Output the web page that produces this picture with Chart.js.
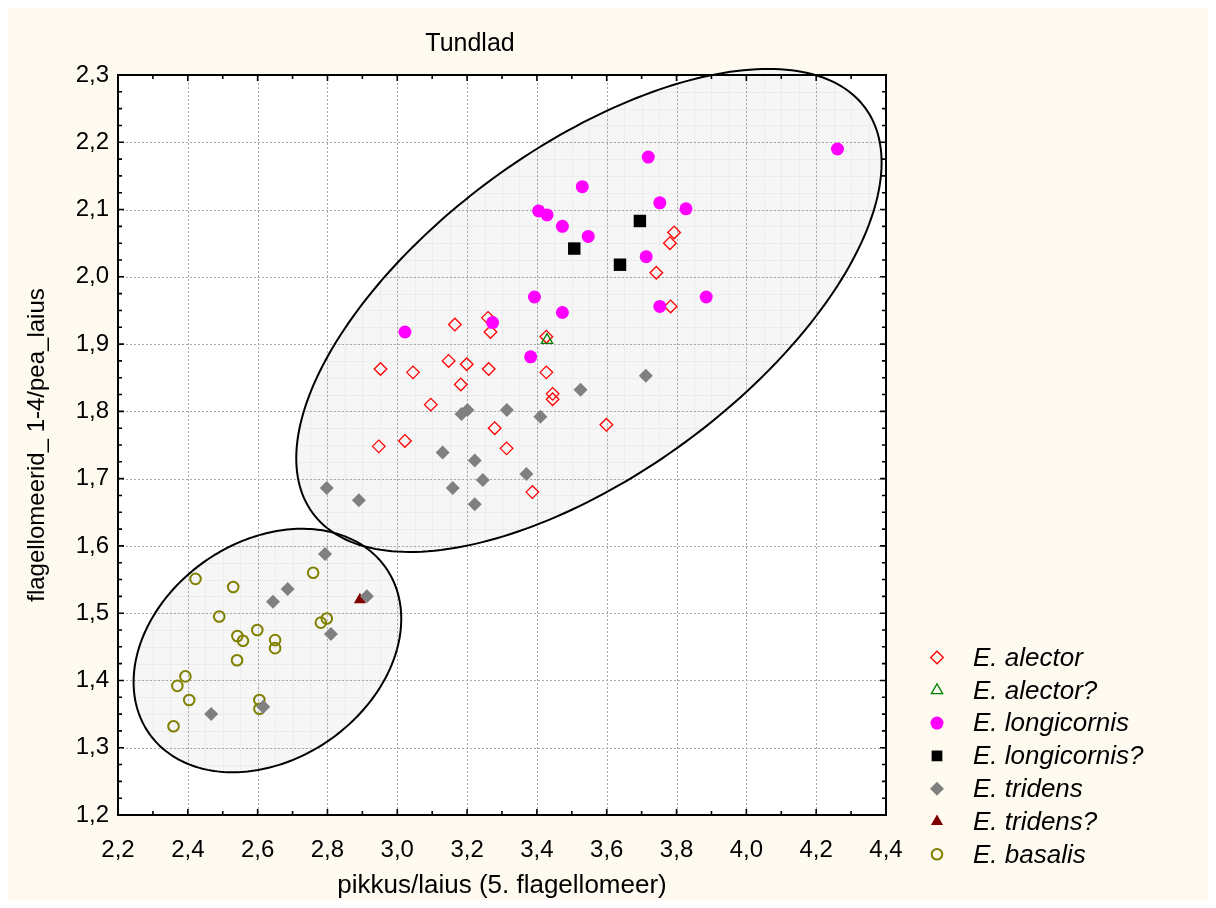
<!DOCTYPE html>
<html>
<head>
<meta charset="utf-8">
<script src="https://cdn.jsdelivr.net/npm/chart.js@4/dist/chart.umd.min.js"></script>
<style>
html,body{margin:0;padding:0;background:#ffffff;}
#wrap{width:1216px;height:908px;position:relative;}
canvas{display:block;}
</style>
</head>
<body>
<div id="wrap"><canvas id="c" width="1216" height="908"></canvas></div>
<script>
// ---------- data ----------
const chartTitle = 'Tundlad';
const xTitle = 'pikkus/laius (5. flagellomeer)';
const yTitle = 'flagellomeerid_ 1-4/pea_laius';

const xTickValues = [2.2, 2.4, 2.6, 2.8, 3.0, 3.2, 3.4, 3.6, 3.8, 4.0, 4.2, 4.4];
const yTickValues = [1.2, 1.3, 1.4, 1.5, 1.6, 1.7, 1.8, 1.9, 2.0, 2.1, 2.2, 2.3];

const seriesNames = ['E. alector', 'E. alector?', 'E. longicornis', 'E. longicornis?', 'E. tridens', 'E. tridens?', 'E. basalis'];

const alectorX = [3.165, 3.260, 3.267, 2.952, 3.045, 3.147, 3.199, 3.262, 3.182, 3.427, 3.427, 3.445, 3.445, 3.096, 2.947, 3.022, 3.279, 3.313, 3.387, 3.599, 3.793, 3.781, 3.742, 3.783];
const alectorY = [1.929, 1.939, 1.918, 1.863, 1.858, 1.875, 1.870, 1.863, 1.840, 1.858, 1.911, 1.826, 1.818, 1.810, 1.748, 1.756, 1.775, 1.745, 1.680, 1.780, 2.066, 2.050, 2.006, 1.956];

const alectorQX = [3.429];
const alectorQY = [1.906];

const longicornisX = [3.719, 3.530, 3.405, 3.429, 3.473, 3.547, 3.752, 3.827, 3.713, 3.393, 3.473, 3.752, 3.885, 3.022, 3.273, 3.382, 4.261];
const longicornisY = [2.178, 2.134, 2.098, 2.092, 2.075, 2.060, 2.110, 2.101, 2.030, 1.970, 1.947, 1.956, 1.970, 1.918, 1.932, 1.881, 2.190];

const longicornisQX = [3.695, 3.507, 3.638];
const longicornisQY = [2.083, 2.042, 2.018];

const tridensX = [3.525, 3.712, 3.184, 3.201, 3.314, 3.410, 3.130, 3.222, 3.245, 3.370, 3.159, 3.222, 2.890, 2.798, 2.793, 2.686, 2.644, 2.913, 2.810, 2.467, 2.616];
const tridensY = [1.832, 1.853, 1.796, 1.802, 1.802, 1.792, 1.739, 1.727, 1.698, 1.707, 1.686, 1.662, 1.668, 1.686, 1.588, 1.536, 1.517, 1.525, 1.469, 1.350, 1.361];

const tridensQX = [2.893];
const tridensQY = [1.520];

const basalisX = [2.422, 2.530, 2.759, 2.490, 2.599, 2.542, 2.558, 2.650, 2.650, 2.781, 2.798, 2.541, 2.393, 2.370, 2.404, 2.605, 2.605, 2.359];
const basalisY = [1.551, 1.539, 1.560, 1.495, 1.475, 1.466, 1.459, 1.460, 1.448, 1.486, 1.492, 1.430, 1.406, 1.392, 1.371, 1.371, 1.358, 1.332];

// ellipses: centre x, centre y, axis-1 (dx, dy), axis-2 (dx, dy) in data units
const bigEllipse = [3.549, 1.950, 0.792, 0.3007, 0.275, -0.1961];
const smallEllipse = [2.628, 1.4445, 0.3399, 0.1225, 0.1773, -0.1332];

// ---------- helpers ----------
const pts = (xs, ys) => xs.map((x, i) => ({x: x, y: ys[i]}));
const fmt = v => Number(v).toFixed(1).replace('.', ',');
const FONT = '"Liberation Sans", Arial, Helvetica, sans-serif';

const datasets = [
  {label: seriesNames[0], data: pts(alectorX, alectorY), pointStyle: 'rectRot', pointRadius: 6.3, borderColor: '#ff0000', backgroundColor: 'rgba(0,0,0,0)', borderWidth: 1.3, order: 7},
  {label: seriesNames[1], data: pts(alectorQX, alectorQY), pointStyle: 'triangle', pointRadius: 6.5, borderColor: '#008000', backgroundColor: 'rgba(0,0,0,0)', borderWidth: 1.3, order: 4},
  {label: seriesNames[2], data: pts(longicornisX, longicornisY), pointStyle: 'circle', pointRadius: 6.5, borderColor: '#ff00ff', backgroundColor: '#ff00ff', borderWidth: 0, order: 3},
  {label: seriesNames[3], data: pts(longicornisQX, longicornisQY), pointStyle: 'rect', pointRadius: 8.8, borderColor: '#000000', backgroundColor: '#000000', borderWidth: 0, order: 2},
  {label: seriesNames[4], data: pts(tridensX, tridensY), pointStyle: 'rectRot', pointRadius: 7, borderColor: '#808080', backgroundColor: '#808080', borderWidth: 0, order: 1},
  {label: seriesNames[5], data: pts(tridensQX, tridensQY), pointStyle: 'triangle', pointRadius: 7, borderColor: '#800000', backgroundColor: '#800000', borderWidth: 0, order: 5},
  {label: seriesNames[6], data: pts(basalisX, basalisY), pointStyle: 'circle', pointRadius: 5.3, borderColor: '#808000', backgroundColor: 'rgba(0,0,0,0)', borderWidth: 2, order: 6}
];
datasets.forEach(d => { d.pointHoverRadius = d.pointRadius; d.showLine = false; });

function ellipsePath(ctx, xs, ys, e) {
  ctx.beginPath();
  const n = 240;
  for (let i = 0; i <= n; i++) {
    const t = i / n * 2 * Math.PI;
    const dx = e[0] + e[2] * Math.cos(t) + e[4] * Math.sin(t);
    const dy = e[1] + e[3] * Math.cos(t) + e[5] * Math.sin(t);
    const px = xs.getPixelForValue(dx), py = ys.getPixelForValue(dy);
    if (i === 0) ctx.moveTo(px, py); else ctx.lineTo(px, py);
  }
  ctx.closePath();
}

const backgroundPlugin = {
  id: 'bg',
  beforeDraw(chart) {
    const ctx = chart.ctx;
    ctx.save();
    ctx.fillStyle = '#ffffff';
    ctx.fillRect(0, 0, chart.width, chart.height);
    ctx.fillStyle = '#fefaef';
    ctx.fillRect(8, 8, chart.width - 16, chart.height - 16);
    const a = chart.chartArea;
    ctx.fillStyle = '#ffffff';
    ctx.fillRect(a.left, a.top, a.right - a.left, a.bottom - a.top);
    ctx.restore();
  }
};

const plotPlugin = {
  id: 'plotDecor',
  beforeDatasetsDraw(chart) {
    const ctx = chart.ctx, a = chart.chartArea;
    const xs = chart.scales.x, ys = chart.scales.y;
    ctx.save();
    [bigEllipse, smallEllipse].forEach(e => {
      ellipsePath(ctx, xs, ys, e);
      ctx.fillStyle = '#f6f6f6';
      ctx.fill();
    });
    [bigEllipse, smallEllipse].forEach(e => {
      ctx.save();
      ellipsePath(ctx, xs, ys, e);
      ctx.clip();
      ctx.beginPath();
      ctx.rect(a.left, a.top, a.right - a.left, a.bottom - a.top);
      ctx.clip();
      ctx.strokeStyle = '#ececec';
      ctx.lineWidth = 1;
      ctx.beginPath();
      for (let k = 0; k <= 44; k++) {
        const px = Math.round(xs.getPixelForValue(2.2 + k * 0.05)) + 0.5;
        ctx.moveTo(px, a.top); ctx.lineTo(px, a.bottom);
      }
      for (let k = 0; k <= 44; k++) {
        const py = Math.round(ys.getPixelForValue(1.2 + k * 0.025)) + 0.5;
        ctx.moveTo(a.left, py); ctx.lineTo(a.right, py);
      }
      ctx.stroke();
      ctx.restore();
    });
    ctx.strokeStyle = '#a8a8a8';
    ctx.lineWidth = 1;
    ctx.setLineDash([2, 2]);
    ctx.beginPath();
    xTickValues.forEach(v => {
      const px = Math.round(xs.getPixelForValue(v)) + 0.5;
      ctx.moveTo(px, a.top); ctx.lineTo(px, a.bottom);
    });
    yTickValues.forEach(v => {
      const py = Math.round(ys.getPixelForValue(v)) + 0.5;
      ctx.moveTo(a.left, py); ctx.lineTo(a.right, py);
    });
    ctx.stroke();
    ctx.setLineDash([]);
    ctx.strokeStyle = '#000000';
    ctx.lineWidth = 2;
    [bigEllipse, smallEllipse].forEach(e => {
      ellipsePath(ctx, xs, ys, e);
      ctx.stroke();
    });
    ctx.restore();
  },
  afterDatasetsDraw(chart) {
    const ctx = chart.ctx, a = chart.chartArea;
    const xs = chart.scales.x, ys = chart.scales.y;
    ctx.save();
    ctx.strokeStyle = '#000000';
    ctx.lineWidth = 2;
    ctx.strokeRect(a.left, a.top, a.right - a.left, a.bottom - a.top);
    ctx.lineWidth = 1.6;
    ctx.beginPath();
    for (let k = 0; k <= 22; k++) {
      const px = xs.getPixelForValue(2.2 + k * 0.1);
      const len = (k % 2 === 0) ? 6 : 4;
      ctx.moveTo(px, a.bottom); ctx.lineTo(px, a.bottom - len);
      ctx.moveTo(px, a.top); ctx.lineTo(px, a.top + len);
    }
    for (let k = 0; k <= 44; k++) {
      const py = ys.getPixelForValue(1.2 + k * 0.025);
      const len = (k % 4 === 0) ? 6 : 4;
      ctx.moveTo(a.left, py); ctx.lineTo(a.left + len, py);
      ctx.moveTo(a.right, py); ctx.lineTo(a.right - len, py);
    }
    ctx.stroke();
    ctx.restore();
  },
  afterDraw(chart) {
    const ctx = chart.ctx, a = chart.chartArea;
    ctx.save();
    ctx.fillStyle = '#000000';
    ctx.textAlign = 'center';
    ctx.textBaseline = 'middle';
    ctx.font = '25px ' + FONT;
    ctx.fillText(chartTitle, 470, 44);
    ctx.font = '26px ' + FONT;
    ctx.fillText(xTitle, (a.left + a.right) / 2, 886);
    ctx.font = '24px ' + FONT;
    ctx.save();
    ctx.translate(37, (a.top + a.bottom) / 2);
    ctx.rotate(-Math.PI / 2);
    ctx.fillText(yTitle, 0, 0);
    ctx.restore();
    const lx = 937, tx = 973, ly0 = 657.5, dy = 32.8;
    const hasHelper = Chart.helpers && Chart.helpers.drawPoint;
    chart.data.datasets.forEach((d, i) => {
      const y = ly0 + i * dy;
      ctx.fillStyle = d.backgroundColor;
      ctx.strokeStyle = d.borderColor;
      ctx.lineWidth = d.borderWidth;
      const r = Math.min(d.pointRadius, 8) * (d.pointStyle === 'rect' ? 0.95 : 1);
      if (hasHelper) {
        Chart.helpers.drawPoint(ctx, {pointStyle: d.pointStyle, radius: r, borderWidth: d.borderWidth, rotation: 0}, lx, y);
      }
      ctx.fillStyle = '#000000';
      ctx.textAlign = 'left';
      ctx.font = 'italic 26px ' + FONT;
      ctx.fillText(d.label, tx, y + 1);
    });
    ctx.restore();
  }
};

new Chart(document.getElementById('c'), {
  type: 'scatter',
  data: {datasets: datasets},
  options: {
    responsive: false,
    animation: false,
    devicePixelRatio: 1,
    layout: {padding: {left: 0, top: 75, right: 330, bottom: 0}},
    plugins: {legend: {display: false}, tooltip: {enabled: false}, title: {display: false}},
    scales: {
      x: {
        type: 'linear', min: 2.2, max: 4.4,
        afterBuildTicks: s => { s.ticks = xTickValues.map(v => ({value: v})); },
        afterFit: s => { s.height = 93; },
        grid: {display: false, drawTicks: false},
        border: {display: false},
        ticks: {callback: v => fmt(v), color: '#000', font: {size: 24, family: FONT}, padding: 21, maxRotation: 0, autoSkip: false}
      },
      y: {
        type: 'linear', min: 1.2, max: 2.3,
        afterBuildTicks: s => { s.ticks = yTickValues.map(v => ({value: v})); },
        afterFit: s => { s.width = 118; },
        grid: {display: false, drawTicks: false},
        border: {display: false},
        ticks: {callback: v => fmt(v), color: '#000', font: {size: 24, family: FONT}, padding: 9, autoSkip: false}
      }
    }
  },
  plugins: [backgroundPlugin, plotPlugin]
});
</script>
</body>
</html>
